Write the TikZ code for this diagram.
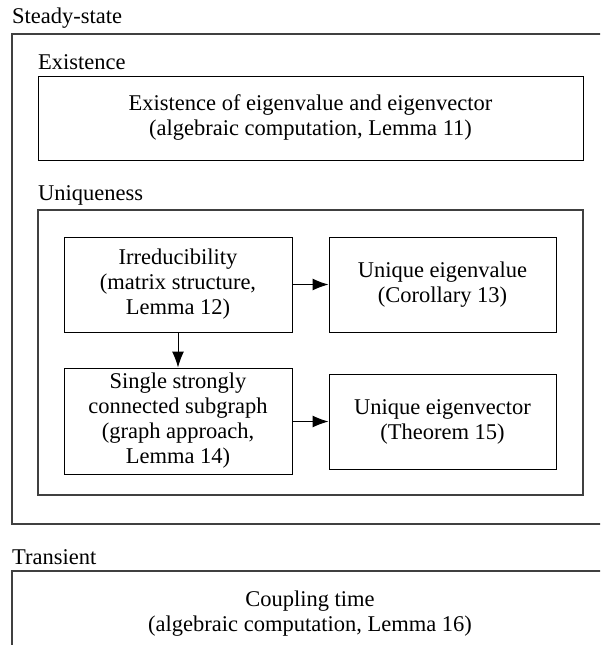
\documentclass[tikz,border=0pt]{standalone}
\usepackage{fontspec}
\setmainfont{Liberation Serif}
\usetikzlibrary{arrows.meta}
\tikzset{>={Latex[length=16pt,width=12pt]}}
\tikzset{
  box/.style={draw, line width=1pt, align=center, inner sep=0pt},
  frame/.style={draw=black!75, line width=1.3pt},
  grouplabel/.style={anchor=west, inner sep=0pt}
}

\begin{document}
\begin{tikzpicture}[x=1pt,y=-1pt,font=\fontsize{22.5}{25}\selectfont]
	\useasboundingbox (0,0) rectangle (600,645);
	\clip (0,0) rectangle (600,645);

	% steady-state part
	\node[grouplabel] (steadylbl) at (12,18) {Steady-state};
	\draw[frame] (12,34) rectangle (609,524);

	\node[grouplabel] (existlbl) at (38,62) {Existence};
	\node[box, minimum width=545pt, minimum height=84pt] (exist) at (310.5,118)
		{Existence of eigenvalue and eigenvector\\(algebraic computation, Lemma 11)};

	\node[grouplabel] (uniqlbl) at (38,195) {Uniqueness};
	\draw[frame] (38,210) rectangle (583,495);

	\node[box, minimum width=228pt, minimum height=95pt] (irred) at (178,284.5)
		{Irreducibility\\(matrix structure,\\Lemma 12)};
	\node[box, minimum width=227pt, minimum height=95pt] (eigval) at (442.5,284.5)
		{Unique eigenvalue\\(Corollary 13)};
	\node[box, minimum width=228pt, minimum height=106pt] (scc) at (178,421)
		{Single strongly\\connected subgraph\\(graph approach,\\Lemma 14)};
	\node[box, minimum width=227pt, minimum height=95pt] (eigvec) at (442.5,421.5)
		{Unique eigenvector\\(Theorem 15)};

	\draw[line width=1pt][->] (irred) -- (eigval);
	\draw[line width=1pt][->] (irred) -- (scc);
	\draw[line width=1pt][->] (scc.east |- eigvec.west) -- (eigvec.west);

	% transient part
	\node[grouplabel] (translbl) at (12,557) {Transient};
	\node[box, draw=black!75, line width=1.3pt, minimum width=596pt, minimum height=85pt] (coupling) at (310,613.5)
		{Coupling time\\(algebraic computation, Lemma 16)};
\end{tikzpicture}
\end{document}
